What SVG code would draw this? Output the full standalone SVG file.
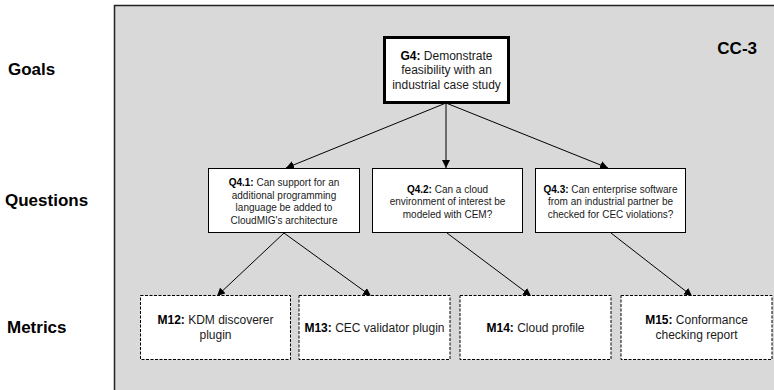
<svg xmlns="http://www.w3.org/2000/svg" width="774" height="390" viewBox="0 0 774 390">
  <style>
    .lvl { font-family: "Liberation Sans", Arial, sans-serif; font-weight: bold; font-size: 17px; fill: #000; }
    .node rect { fill: #fff; stroke: #000; }
    .goal rect { stroke-width: 3; }
    .question rect { stroke-width: 1; }
    .metric rect { stroke-width: 1; stroke-dasharray: 3 1.5; }
    .node text { font-family: "Liberation Sans", Arial, sans-serif; fill: #1a1a1a; text-anchor: middle; }
    .goal text { font-size: 12px; }
    .question text { font-size: 10px; }
    .metric text { font-size: 12px; }
    .b { font-weight: bold; fill: #000; }
    .edges line { stroke: #000; stroke-width: 1; marker-end: url(#head); }
  </style>
  <defs>
    <marker id="head" viewBox="0 0 10 10" refX="10" refY="5" markerWidth="8" markerHeight="8" markerUnits="userSpaceOnUse" orient="auto">
      <path d="M0,0 L10,5 L0,10 z" fill="#000"/>
    </marker>
  </defs>

  <rect width="774" height="390" fill="#fff"/>

  <!-- level labels -->
  <text class="lvl" x="8" y="75">Goals</text>
  <text class="lvl" x="5" y="206">Questions</text>
  <text class="lvl" x="7" y="333">Metrics</text>

  <!-- case container -->
  <g id="cc3">
    <rect x="114.5" y="5.5" width="665" height="400" fill="#d9d9d9" stroke="#222" stroke-width="1.5"/>
    <text x="757" y="54" text-anchor="end" style="font-family:'Liberation Sans',Arial,sans-serif;font-weight:bold;font-size:17px">CC-3</text>
  </g>

  <!-- connectors -->
  <g class="edges" id="edges">
    <line x1="446" y1="103" x2="286" y2="168"/>
    <line x1="446" y1="103" x2="446" y2="168"/>
    <line x1="446" y1="103" x2="608" y2="168"/>
    <line x1="284" y1="233" x2="217" y2="296"/>
    <line x1="284" y1="233" x2="371" y2="296"/>
    <line x1="447" y1="233" x2="531" y2="296"/>
    <line x1="611" y1="233" x2="692" y2="296"/>
  </g>

  <!-- goal -->
  <g id="g4" class="node goal">
    <rect x="384.5" y="37.5" width="124" height="65"/>
    <text x="446.5" y="59.5"><tspan class="b">G4:</tspan> Demonstrate</text>
    <text x="446.5" y="74">feasibility with  an</text>
    <text x="446.5" y="88.5">industrial case study</text>
  </g>

  <!-- questions -->
  <g id="q41" class="node question">
    <rect x="208.5" y="168.5" width="151" height="64"/>
    <text x="284" y="186"><tspan class="b">Q4.1:</tspan> Can support for an</text>
    <text x="284" y="198.5">additional programming</text>
    <text x="284" y="211">language be added to</text>
    <text x="284" y="223.5">CloudMIG's architecture</text>
  </g>
  <g id="q42" class="node question">
    <rect x="372.5" y="168.5" width="150" height="64"/>
    <text x="447.5" y="192.5"><tspan class="b">Q4.2:</tspan> Can a cloud</text>
    <text x="447.5" y="205">environment of interest be</text>
    <text x="447.5" y="217.5">modeled with CEM?</text>
  </g>
  <g id="q43" class="node question">
    <rect x="535.5" y="168.5" width="150" height="64"/>
    <text x="610.5" y="192.5"><tspan class="b">Q4.3:</tspan> Can enterprise software</text>
    <text x="610.5" y="205">from an industrial partner be</text>
    <text x="610.5" y="217.5">checked for CEC violations?</text>
  </g>

  <!-- metrics -->
  <g id="m12" class="node metric">
    <rect x="140.5" y="295.5" width="150" height="64"/>
    <text x="215.5" y="324"><tspan class="b">M12:</tspan> KDM discoverer</text>
    <text x="215.5" y="338.5">plugin</text>
  </g>
  <g id="m13" class="node metric">
    <rect x="299" y="295.5" width="151" height="64"/>
    <text x="374.5" y="331.5"><tspan class="b">M13:</tspan> CEC validator plugin</text>
  </g>
  <g id="m14" class="node metric">
    <rect x="460" y="295.5" width="151" height="64"/>
    <text x="535.5" y="331.5"><tspan class="b">M14:</tspan> Cloud profile</text>
  </g>
  <g id="m15" class="node metric">
    <rect x="621" y="295.5" width="151" height="64"/>
    <text x="696.5" y="324"><tspan class="b">M15:</tspan> Conformance</text>
    <text x="696.5" y="338.5">checking report</text>
  </g>
</svg>
